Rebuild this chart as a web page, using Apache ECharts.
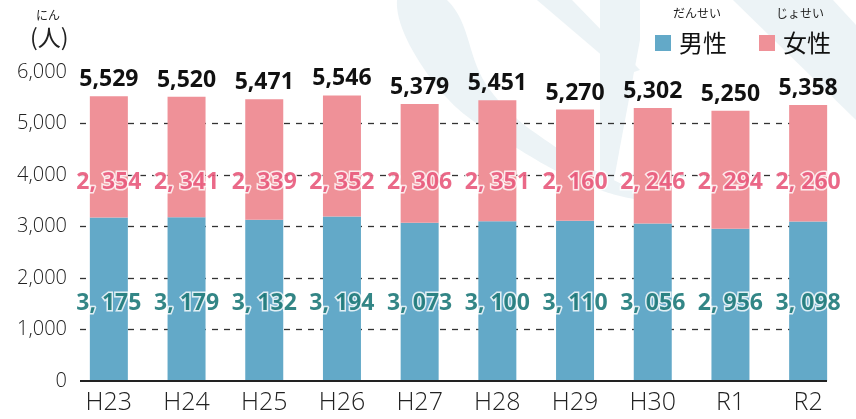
<!DOCTYPE html>
<html><head><meta charset="utf-8">
<script src="https://cdn.jsdelivr.net/npm/echarts@6/dist/echarts.min.js"></script>
<style>html,body{margin:0;padding:0;background:#fff}#c{width:856px;height:419px}</style>
</head><body><div id="c"></div>
<script>
const categories = ['H23','H24','H25','H26','H27','H28','H29','H30','R1','R2'];
const male   = [3175,3179,3132,3194,3073,3100,3110,3056,2956,3098];
const female = [2354,2341,2339,2352,2306,2351,2160,2246,2294,2260];
const totals = [5529,5520,5471,5546,5379,5451,5270,5302,5250,5358];
const yTicks = [0,1000,2000,3000,4000,5000,6000];

const FEMALE_LABEL_AT = 3860; // layout constant: height where female labels sit
const MALE_LABEL_AT = 1505;   // layout constant: height where male labels sit

const fmt = v => String(v).replace(/\B(?=(\d{3})+(?!\d))/g, ',');
const fmtSp = v => String(v).replace(/\B(?=(\d{3})+(?!\d))/g, ', ');

const MALE_C = '#63a9c8', FEMALE_C = '#ef9198';
const JP = '"Noto Sans CJK JP", "Noto Sans", sans-serif';
const THIN = '"Open Sans", "Noto Sans", sans-serif';
const BG = '#ecf3f6';

const chart = echarts.init(document.getElementById('c'));
chart.setOption({
  animation: false,
  backgroundColor: '#fff',
  graphic: [
    { type: 'polygon', z: -10, shape: { smooth: 0.4, points: [[397,0],[447,0],[490,90],[560,150],[645,198],[600,190],[520,150],[440,90]] }, style: { fill: BG } },
    { type: 'polygon', z: -10, shape: { points: [[537,0],[572,0],[640,70],[625,75]] }, style: { fill: BG } },
    { type: 'polygon', z: -10, shape: { points: [[600,0],[640,0],[640,40],[612,190],[600,190]] }, style: { fill: BG } },
    { type: 'polygon', z: -10, shape: { points: [[733,0],[833,0],[856,25],[856,120]] }, style: { fill: BG } },
    { type: 'text', left: 36, top: 9, style: { text: 'にん', font: '12px ' + JP, fill: '#222' } },
    { type: 'text', left: 30, top: 26, style: { text: '(人)', font: '23px ' + JP, fill: '#222' } },
    { type: 'text', left: 673, top: 7, style: { text: 'だんせい', font: '12px ' + JP, fill: '#222' } },
    { type: 'text', left: 776, top: 7, style: { text: 'じょせい', font: '12px ' + JP, fill: '#222' } }
  ],
  legend: {
    data: ['男性','女性'],
    left: 650, top: 26,
    icon: 'rect', itemWidth: 16, itemHeight: 16, itemGap: 32,
    textStyle: { fontSize: 24, color: '#111', fontFamily: JP, padding: [0,0,0,3] },
    selectedMode: false
  },
  grid: [
    { left: 80, right: 29, top: 72, bottom: 38 },
    { left: 70, right: 9, top: 72, bottom: 38 }
  ],
  xAxis: [
    { gridIndex: 0, type: 'value', min: 0, max: 1, show: true,
      axisLine: { show: false }, axisTick: { show: false }, axisLabel: { show: false }, splitLine: { show: false } },
    { gridIndex: 1, type: 'category', data: categories,
      axisLine: { show: false }, axisTick: { show: false },
      axisLabel: { fontSize: 25, color: '#222', margin: 9, fontFamily: THIN, fontWeight: 300 } }
  ],
  yAxis: [
    { gridIndex: 0, type: 'value', min: yTicks[0], max: yTicks[yTicks.length-1], interval: 1000,
      axisLine: { show: false }, axisTick: { show: false },
      axisLabel: { fontSize: 20, color: '#222', margin: 13, fontFamily: THIN, fontWeight: 300, formatter: v => fmt(v) },
      splitLine: { show: true, showMinLine: false, showMaxLine: false, lineStyle: { color: '#333', type: [6,6], width: 1.3 } } },
    { gridIndex: 1, type: 'value', min: yTicks[0], max: yTicks[yTicks.length-1], interval: 1000, show: false, splitLine: { show: false } }
  ],
  series: [
    { type: 'line', xAxisIndex: 0, yAxisIndex: 0, data: [[0,0],[1,0]], symbol: 'none', silent: true,
      lineStyle: { color: '#222', width: 2 }, z: 5 },
    { name: '男性', type: 'bar', stack: 'a', xAxisIndex: 1, yAxisIndex: 1, data: male, barWidth: 38,
      itemStyle: { color: MALE_C }, z: 3 },
    { name: '女性', type: 'bar', stack: 'a', xAxisIndex: 1, yAxisIndex: 1, data: female, barWidth: 38,
      itemStyle: { color: FEMALE_C }, z: 3,
      label: { show: true, position: 'top', distance: 5, formatter: p => fmt(totals[p.dataIndex]),
        fontSize: 23, fontWeight: 'bold', color: '#111', fontFamily: '"Noto Sans", sans-serif' } },
    { type: 'scatter', xAxisIndex: 1, yAxisIndex: 1, symbolSize: 0, silent: true, z: 10,
      data: female.map((v,i) => [i, FEMALE_LABEL_AT]),
      label: { show: true, position: 'inside', formatter: p => fmtSp(female[p.dataIndex]),
        fontSize: 23, fontWeight: 'bold', color: '#e5446a', textBorderColor: '#fff', textBorderWidth: 3,
        fontFamily: '"Noto Sans", sans-serif' } },
    { type: 'scatter', xAxisIndex: 1, yAxisIndex: 1, symbolSize: 0, silent: true, z: 10,
      data: male.map((v,i) => [i, MALE_LABEL_AT]),
      label: { show: true, position: 'inside', formatter: p => fmtSp(male[p.dataIndex]),
        fontSize: 23, fontWeight: 'bold', color: '#006868', textBorderColor: '#fff', textBorderWidth: 3,
        fontFamily: '"Noto Sans", sans-serif' } }
  ]
});
</script></body></html>
